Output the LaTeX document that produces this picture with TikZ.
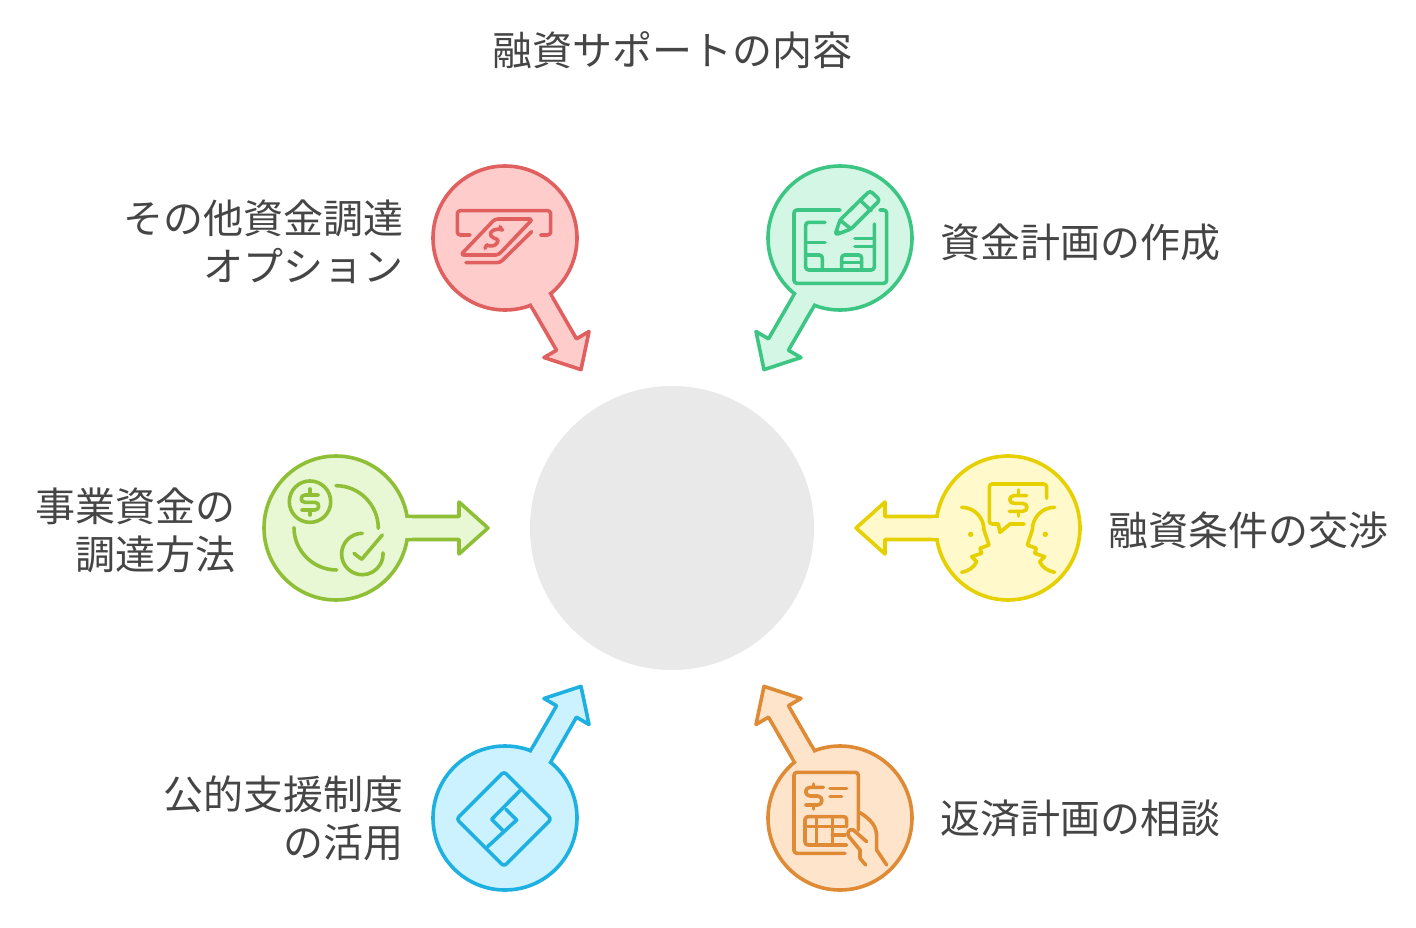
\documentclass[tikz,border=0pt]{standalone}
\usepackage{fontspec}
\setmainfont{Noto Sans CJK JP}
\definecolor{txt}{HTML}{454545}
\definecolor{redD}{HTML}{E06060}\definecolor{redL}{HTML}{FFCCCC}
\definecolor{grnD}{HTML}{3CC583}\definecolor{grnL}{HTML}{D4F7E5}
\definecolor{limD}{HTML}{8FBF36}\definecolor{limL}{HTML}{E8F7D4}
\definecolor{yelD}{HTML}{E6D000}\definecolor{yelL}{HTML}{FFF9CC}
\definecolor{bluD}{HTML}{1EB0E0}\definecolor{bluL}{HTML}{CCF2FF}
\definecolor{oraD}{HTML}{DF8A35}\definecolor{oraL}{HTML}{FFE4CC}
\definecolor{hub}{HTML}{E9E9E9}
\tikzset{
  disc/.style={circle,inner sep=0pt,minimum size=144pt,draw=#1D,fill=#1L,line width=3.6pt},
  lab/.style={inner sep=0pt,text=txt,font=\fontsize{40}{48}\selectfont,align=#1},
  icon/.style={draw=#1D,line width=3.6pt,line cap=round,line join=round,rounded corners=3pt},
  plain/.style={draw=#1D,line width=3.6pt,line cap=round,line join=round},
}
% #1 disc name, #2 rotation, #3 colour prefix
\newcommand{\arrowblock}[3]{%
  \begin{scope}[shift={(#1.center)},rotate=#2]
    \path[fill=#3L,draw=#3D,line width=3.6pt,line join=round,line cap=round]
      (71,-11.5) -- (123,-11.5) -- (123,-26) -- (152,0) -- (123,26) -- (123,11.5) -- (71,11.5);
    \fill[#3L] (60,-9.7) rectangle (76,9.7);
  \end{scope}}
\begin{document}
\begin{tikzpicture}[x=1pt,y=-1pt]
\useasboundingbox (0,0) rectangle (1416,928);
\node[lab=center] (title) at (672.5,50) {融資サポートの内容};
\node[circle,inner sep=0pt,minimum size=284pt,fill=hub] (hubc) at (672,528) {};
\node[disc=red] (c1) at (505,238) {};
\node[disc=grn] (c2) at (840,238) {};
\node[disc=lim] (c3) at (336,528) {};
\node[disc=yel] (c4) at (1008,528) {};
\node[disc=blu] (c5) at (505,818) {};
\node[disc=ora] (c6) at (840,818) {};
\arrowblock{c1}{-60}{red}
\arrowblock{c2}{-120}{grn}
\arrowblock{c3}{0}{lim}
\arrowblock{c4}{180}{yel}
\arrowblock{c5}{60}{blu}
\arrowblock{c6}{120}{ora}
\node[lab=right,anchor=east] (t1) at (404,242) {その他資金調達\\オプション};
\node[lab=left,anchor=west] (t2) at (940.5,242) {資金計画の作成};
\node[lab=right,anchor=east] (t3) at (236,530) {事業資金の\\調達方法};
\node[lab=left,anchor=west] (t4) at (1108.5,530) {融資条件の交渉};
\node[lab=right,anchor=east] (t5) at (404,818) {公的支援制度\\の活用};
\node[lab=left,anchor=west] (t6) at (940.5,818) {返済計画の相談};
% red icon
\begin{scope}[shift={(420,150)},x=0.3333pt,y=-0.3333pt]
 \draw[icon=red] (150,255) -- (112,255) -- (112,182) -- (392,182) -- (392,255) -- (362,255);
 \draw[icon=red] (225,207) -- (338,207) -- (235,315) -- (122,315) -- cycle;
 \draw[icon=red] (138,338) -- (240,338) -- (335,245);
 \draw[plain=red] (248,240) .. controls (225,232) and (205,245) .. (213,258) .. controls (222,268) and (240,265) .. (232,278) .. controls (225,290) and (210,290) .. (200,285);
 \draw[plain=red] (240,230) -- (246,240) (195,295) -- (200,285);
\end{scope}
% green icon
\begin{scope}[shift={(745,150)},x=0.3333pt,y=-0.3333pt]
 \draw[icon=grn] (285,180) -- (147,180) -- (147,400) -- (425,400) -- (425,180) -- (405,180);
 \draw[icon=grn] (240,217) -- (182,217) -- (182,360) -- (388,360) -- (388,222);
 \draw[plain=grn] (182,277) -- (240,277) (330,265) -- (388,265) (330,290) -- (388,290);
 \draw[icon=grn] (182,315) -- (232,315) -- (232,360);
 \draw[icon=grn] (290,360) -- (290,315) -- (350,315) -- (350,360);
 \draw[plain=grn] (290,338) -- (350,338);
 \draw[icon=grn] (270,255) -- (285,210) -- (375,122) -- (405,150) -- (318,237) -- cycle;
 \draw[plain=grn] (345,150) -- (378,182) (285,210) -- (318,237);
 \fill[grnD] (270,255) -- (276,236) -- (290,248) -- cycle;
\end{scope}
% lime icon
\begin{scope}[shift={(255,445)},x=0.3333pt,y=-0.3333pt]
 \draw[plain=lim] (165,170) circle[radius=20.7pt];
 \draw[plain=lim] (165,132) -- (165,145) (165,198) -- (165,210);
 \draw[plain=lim] (190,150) -- (150,150) .. controls (135,150) and (135,172) .. (150,172) -- (180,172) .. controls (195,172) and (195,195) .. (180,195) -- (140,195);
 \draw[plain=lim] (243,122) .. controls (313,122) and (370,180) .. (370,250);
 \draw[plain=lim] (117,248) .. controls (117,318) and (175,375) .. (245,375);
 \draw[plain=lim] (322,265) arc[start angle=90,end angle=363,radius=20.7pt];
 \draw[plain=lim] (297,325) -- (320,343) -- (382,270);
\end{scope}
% yellow icon
\begin{scope}[shift={(850,445)},x=0.3333pt,y=-0.3333pt]
 \draw[icon=yel] (590,160) -- (590,117) -- (418,117) -- (418,237) -- (445,237);
 \draw[plain=yel] (445,237) -- (450,262) -- (480,237) -- (522,237);
 \draw[plain=yel] (505,135) -- (505,150) (505,200) -- (505,213);
 \draw[plain=yel] (530,152) -- (492,152) .. controls (475,152) and (475,175) .. (492,175) -- (518,175) .. controls (535,175) and (535,199) .. (518,199) -- (478,199);
 \draw[plain=yel] (335,187) .. controls (375,187) and (402,220) .. (402,255) -- (417,300) -- (390,310) -- (395,325) -- (365,335) -- (380,350) .. controls (372,368) and (355,378) .. (335,382);
 \fill[yelD] (362,268) circle[radius=2.7pt];
 \draw[plain=yel] (614,187) .. controls (574,187) and (547,220) .. (547,255) -- (532,300) -- (559,310) -- (554,325) -- (584,335) -- (569,350) .. controls (577,368) and (594,378) .. (614,382);
 \fill[yelD] (586,268) circle[radius=2.7pt];
\end{scope}
% blue icon
\begin{scope}[shift={(420,680)},x=0.3333pt,y=-0.3333pt]
 \draw[icon=blu] (252,275) -- (394,417) -- (252,559) -- (110,417) -- cycle;
 \draw[plain=blu] (302,330) -- (215,418) -- (252,455);
 \draw[plain=blu] (203,500) -- (290,420) -- (258,388);
\end{scope}
% orange icon
\begin{scope}[shift={(745,680)},x=0.3333pt,y=-0.3333pt]
 \draw[icon=ora] (300,520) -- (147,520) -- (147,277) -- (340,277) -- (340,450);
 \draw[plain=ora] (205,312) -- (205,322) (205,375) -- (205,387);
 \draw[plain=ora] (235,322) -- (195,322) .. controls (178,322) and (178,348) .. (195,348) -- (218,348) .. controls (235,348) and (235,375) .. (218,375) -- (182,375);
 \draw[plain=ora] (255,325) -- (305,325) (255,350) -- (290,350);
 \draw[icon=ora] (305,495) -- (180,495) -- (180,410) -- (305,410) -- (305,440);
 \draw[plain=ora] (180,440) -- (300,440) (215,410) -- (215,495) (262,410) -- (262,495) (262,465) -- (300,465);
 \draw[plain=ora] (345,398) .. controls (380,420) and (395,440) .. (395,470) -- (395,510) -- (425,555);
 \draw[plain=ora] (365,485) -- (325,450) .. controls (310,445) and (305,460) .. (312,470) -- (345,510) -- (345,535) -- (362,555);
\end{scope}
\end{tikzpicture}
\end{document}
